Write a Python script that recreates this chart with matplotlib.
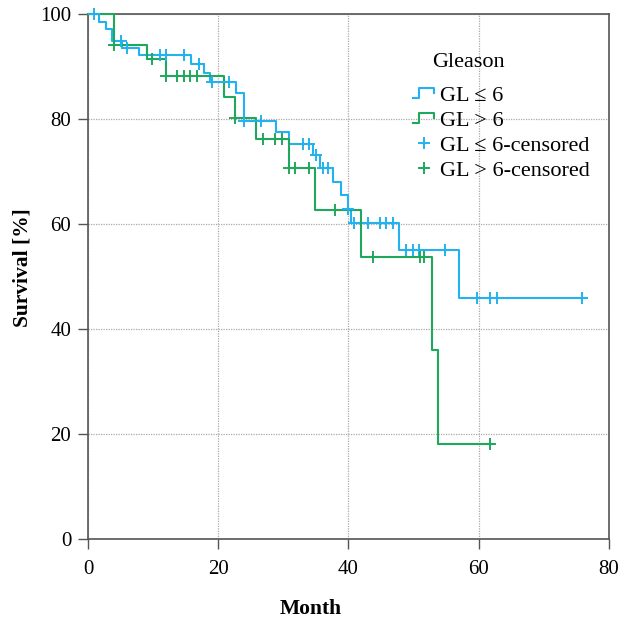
import numpy as np
import matplotlib
matplotlib.use("Agg")
import matplotlib.pyplot as plt
from matplotlib.legend_handler import HandlerBase
from matplotlib.lines import Line2D

plt.rcParams['font.family'] = ['Liberation Serif', 'DejaVu Serif']

# Kaplan-Meier steps (month, survival %)
blue_times = [0, 1.7, 2.8, 3.7, 5.2, 7.8, 15.8, 17.8, 18.8, 22.7, 23.9, 28.8, 30.9,
              34.6, 35.6, 37.7, 38.8, 39.9, 40.4, 47.8, 56.9]
blue_surv = [100, 98.6, 97.2, 95.0, 93.6, 92.2, 90.6, 88.8, 87.1, 85.1, 79.6, 77.6, 75.4,
             73.3, 70.7, 68.1, 65.6, 62.9, 60.2, 55.1, 45.9]
blue_end = 76.3
blue_censor = [0.9, 5.0, 6.0, 11.0, 12.0, 14.8, 17.0, 19.0, 21.7, 24.0, 26.6, 33.0, 33.9,
               35.0, 36.1, 36.8, 39.9, 40.9, 43.0, 44.9, 45.8, 46.8, 48.9, 49.9, 50.9,
               54.8, 59.8, 61.7, 62.8, 75.8]

green_times = [0, 3.95, 9.0, 11.9, 20.9, 22.6, 25.8, 30.8, 34.9, 41.9, 52.8, 53.8]
green_surv = [100, 94.1, 91.6, 88.2, 84.3, 80.2, 76.3, 70.7, 62.7, 53.7, 36.1, 18.1]
green_end = 62.0
green_censor = [4.0, 9.8, 12.0, 13.7, 14.7, 15.7, 16.7, 22.6, 26.9, 28.7, 29.8, 30.9,
                31.8, 34.0, 37.9, 43.7, 51.0, 51.6, 61.7]

labels = ['GL ≤ 6', 'GL > 6', 'GL ≤ 6-censored', 'GL > 6-censored']
blue = '#22b2ee'
green = '#1fa85c'


def surv_at(times, surv, t):
    idx = np.searchsorted(times, t, side='right') - 1
    return np.array(surv)[idx]


class StepHandler(HandlerBase):
    # small step-shaped legend icon
    def create_artists(self, legend, orig_handle, xdescent, ydescent,
                       width, height, fontsize, trans):
        w, h = width, height
        xs = np.array([0.0, 0.3, 0.3, 1.0, 1.0]) * w - xdescent
        ys = np.array([0.15, 0.15, 0.8, 0.8, 0.5]) * h - ydescent
        ln = Line2D(xs, ys, color=orig_handle.get_color(),
                    lw=orig_handle.get_linewidth(), transform=trans)
        return [ln]


fig = plt.figure(figsize=(6.22, 6.19), dpi=100)
ax = fig.add_axes([0.1415, 0.1292, 0.8375, 0.8474])

bx = list(blue_times) + [blue_end]
by = list(blue_surv) + [blue_surv[-1]]
gx = list(green_times) + [green_end]
gy = list(green_surv) + [green_surv[-1]]

l1, = ax.step(bx, by, where='post', color=blue, lw=1.5, zorder=3, clip_on=False)
l2, = ax.step(gx, gy, where='post', color=green, lw=1.5, zorder=3, clip_on=False)
m1, = ax.plot(blue_censor, surv_at(blue_times, blue_surv, blue_censor), ls='none',
              marker='+', ms=8, mew=1.4, color=blue, zorder=4, clip_on=False)
m2, = ax.plot(green_censor, surv_at(green_times, green_surv, green_censor), ls='none',
              marker='+', ms=8, mew=1.4, color=green, zorder=4, clip_on=False)

ax.set_xlim(0, 80)
ax.set_ylim(0, 100)
ax.set_xticks([0, 20, 40, 60, 80])
ax.set_yticks([0, 20, 40, 60, 80, 100])
ax.tick_params(labelsize=15, length=7, width=1, color='#555555')
ax.tick_params(axis='x', pad=8)
ax.tick_params(axis='y', pad=5)
ax.grid(True, color='#aaaaaa', lw=0.9, ls=(0, (1, 1)))
ax.set_axisbelow(True)
for s in ax.spines.values():
    s.set_color('#555555')
    s.set_linewidth(1.2)

ax.set_xlabel('Month', fontsize=15.5, fontweight='bold')
ax.set_ylabel('Survival [%]', fontsize=15.5, fontweight='bold')
ax.xaxis.set_label_coords(0.428, -0.115)
ax.yaxis.set_label_coords(-0.107, 0.517)

leg = ax.legend([l1, l2, m1, m2], labels, loc='upper left',
                bbox_to_anchor=(0.607, 0.882), frameon=False, fontsize=16,
                handlelength=0.95, handletextpad=0.25, labelspacing=0.2,
                borderaxespad=0, handler_map={l1: StepHandler(), l2: StepHandler()})
ax.text(0.661, 0.908, 'Gleason', transform=ax.transAxes, fontsize=16,
        ha='left', va='center')

fig.savefig('out.png', dpi=100)
